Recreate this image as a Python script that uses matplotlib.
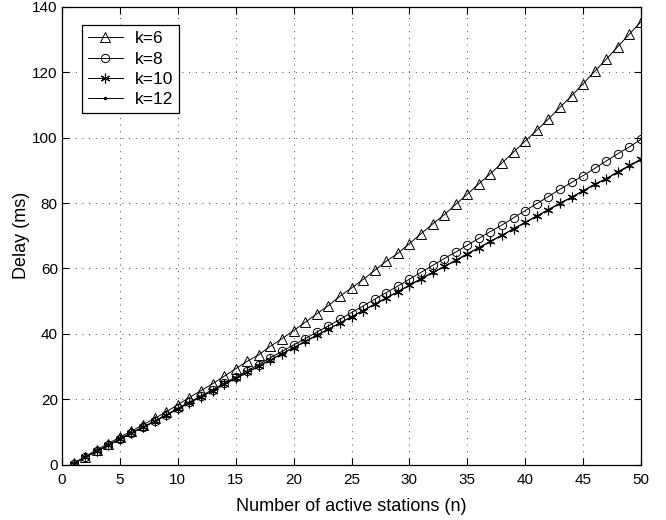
import matplotlib
matplotlib.use("Agg")
import matplotlib.pyplot as plt
import numpy as np

plt.rcParams['font.family'] = ['Liberation Sans', 'DejaVu Sans']

n = list(range(1, 51))

k6 = [0.4, 2.4, 4.5, 6.4, 8.4, 10.2, 12.2, 14.1, 16.1, 18.3,
      20.5, 22.6, 24.7, 27.0, 29.3, 31.6, 33.6, 36.2, 38.5, 41.0,
      43.5, 46.1, 48.6, 51.5, 54.0, 56.6, 59.4, 62.2, 64.6, 67.6,
      70.6, 73.6, 76.4, 79.6, 82.7, 85.9, 89.0, 92.3, 95.6, 99.0,
      102.3, 105.7, 109.3, 112.8, 116.5, 120.3, 124.0, 127.9, 131.7, 135.5]

k8 = [0.3, 2.2, 4.1, 5.9, 7.9, 9.7, 11.5, 13.3, 15.2, 17.2,
      19.1, 21.0, 22.9, 24.9, 26.8, 28.7, 30.6, 32.7, 34.6, 36.6,
      38.5, 40.5, 42.4, 44.4, 46.5, 48.5, 50.6, 52.6, 54.6, 56.7,
      58.8, 60.9, 63.0, 65.0, 67.1, 69.2, 71.3, 73.3, 75.5, 77.7,
      79.8, 82.0, 84.2, 86.3, 88.4, 90.6, 92.9, 95.1, 97.2, 99.5]

k10 = [0.3, 2.2, 4.1, 5.9, 7.8, 9.6, 11.4, 13.2, 15.1, 17.0,
       18.9, 20.7, 22.6, 24.5, 26.4, 28.2, 30.1, 32.0, 33.9, 35.8,
       37.7, 39.6, 41.4, 43.3, 45.2, 47.1, 49.1, 51.0, 52.9, 54.9,
       56.9, 58.8, 60.6, 62.5, 64.5, 66.4, 68.3, 70.2, 72.2, 74.1,
       76.1, 78.0, 80.0, 81.8, 83.8, 85.8, 87.5, 89.6, 91.5, 93.5]

k12 = [0.3, 2.2, 4.1, 5.9, 7.8, 9.6, 11.4, 13.2, 15.1, 17.0,
       18.9, 20.7, 22.6, 24.5, 26.3, 28.2, 30.1, 32.0, 33.9, 35.7,
       37.6, 39.5, 41.4, 43.3, 45.2, 47.1, 49.0, 50.9, 52.8, 54.8,
       56.7, 58.7, 60.5, 62.4, 64.4, 66.3, 68.2, 70.1, 72.1, 74.0,
       76.0, 77.9, 79.8, 81.7, 83.7, 85.6, 87.4, 89.4, 91.3, 93.3]

labels = ["k=6", "k=8", "k=10", "k=12"]
xticks = [0, 5, 10, 15, 20, 25, 30, 35, 40, 45, 50]
yticks = [0, 20, 40, 60, 80, 100, 120, 140]

fig = plt.figure(figsize=(6.66, 5.2), dpi=100)
ax = fig.add_axes([62 / 666, 1 - 464.5 / 520, 579 / 666, 457.5 / 520])

lw = 0.7
ax.plot(n, k6, color='black', lw=lw, marker='^', ms=7.5, mfc='none', mec='black', mew=0.7, label=labels[0])
ax.plot(n, k8, color='black', lw=lw, marker='o', ms=6, mfc='none', mec='black', mew=0.7, label=labels[1])
ax.plot(n, k10, color='black', lw=lw, marker=(6, 2, 0), ms=7, mfc='black', mec='black', mew=0.8, label=labels[2])
ax.plot(n, k12, color='black', lw=lw, marker='.', ms=3, mfc='black', mec='black', label=labels[3])

ax.set_xlim(0, 50)
ax.set_ylim(0, 140)
ax.set_xticks(xticks)
ax.set_yticks(yticks)
ax.tick_params(axis='both', direction='in', top=True, right=True, labelsize=11, length=5, width=0.8)
ax.tick_params(axis='x', pad=6)
ax.tick_params(axis='y', pad=3)
ax.grid(True, color='black', linestyle=(0, (1, 7)), linewidth=0.6)
for s in ax.spines.values():
    s.set_linewidth(0.9)

ax.set_xlabel("Number of active stations (n)", fontsize=13, labelpad=8)
ax.set_ylabel("Delay (ms)", fontsize=13, labelpad=2)

leg = ax.legend(loc='upper left', bbox_to_anchor=(20 / 579, 1 - 18 / 457.5), fontsize=12.5, frameon=True,
                fancybox=False, edgecolor='black', framealpha=1, handlelength=2.0,
                borderpad=0.35, labelspacing=0.3, handletextpad=0.7, borderaxespad=0)
leg.get_frame().set_linewidth(0.9)

fig.savefig("out.png", dpi=100)
